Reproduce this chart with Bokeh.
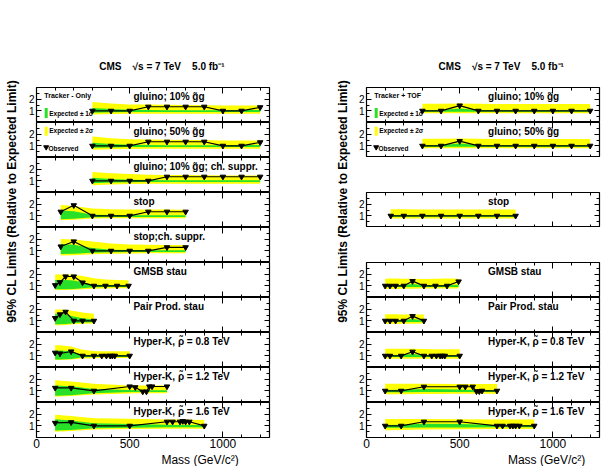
import math

from bokeh.core.properties import value
from bokeh.embed import file_html
from bokeh.layouts import column, row
from bokeh.models import FixedTicker, LinearAxis, Range1d, Spacer
from bokeh.plotting import figure
from bokeh.resources import INLINE

FONT = "Liberation Sans"
YELLOW = "#ffff00"
GREEN = "#28e028"

# ---------------------------------------------------------------- masses (GeV/c^2)
m_gluino = [300, 400, 500, 600, 700, 800, 900, 1000, 1100, 1200]
m_stop = [130, 200, 300, 400, 500, 600, 700, 800]
m_gmsb = [100, 126, 156, 200, 247, 308, 370, 432, 494]
m_ppstau = [100, 126, 156, 200, 247, 308]
m_hk08 = [100, 126, 186, 247, 308, 350, 375, 395, 407, 420, 500]
m_hk12 = [100, 186, 308, 500, 530, 570, 590, 605, 620, 700]
m_hk16 = [100, 186, 308, 500, 700, 730, 770, 785, 800, 820, 900]

# ---------------------------------------------------------------- Tracker-only
# observed / expected limit, and the expected +-2 sigma and +-1 sigma bands
trk_gl10_obs = [1.0, 1.0, 1.0, 1.35, 1.35, 1.35, 1.35, 1.0, 1.0, 1.3]
trk_gl10_lo2 = [0.68, 0.72, 0.74, 0.75, 0.76, 0.76, 0.76, 0.76, 0.75, 0.75]
trk_gl10_hi2 = [1.75, 1.62, 1.55, 1.55, 1.52, 1.5, 1.48, 1.46, 1.46, 1.46]
trk_gl10_lo1 = [0.84, 0.87, 0.89, 0.9, 0.9, 0.9, 0.9, 0.9, 0.9, 0.9]
trk_gl10_hi1 = [1.25, 1.15, 1.09, 1.07, 1.06, 1.06, 1.06, 1.06, 1.07, 1.08]

trk_gl50_obs = [1.0, 1.0, 1.0, 1.35, 1.35, 1.35, 1.35, 1.0, 1.0, 1.3]
trk_gl50_lo2 = [0.66, 0.7, 0.73, 0.75, 0.76, 0.76, 0.76, 0.76, 0.75, 0.75]
trk_gl50_hi2 = [1.8, 1.65, 1.56, 1.55, 1.52, 1.5, 1.5, 1.46, 1.46, 1.46]
trk_gl50_lo1 = [0.83, 0.86, 0.89, 0.9, 0.9, 0.9, 0.9, 0.9, 0.9, 0.9]
trk_gl50_hi1 = [1.27, 1.16, 1.09, 1.07, 1.06, 1.06, 1.06, 1.06, 1.07, 1.08]

trk_gl10cs_obs = [1.0, 1.0, 1.0, 1.0, 1.35, 1.35, 1.35, 1.35, 1.35, 1.35]
trk_gl10cs_lo2 = [0.62, 0.68, 0.72, 0.74, 0.75, 0.76, 0.76, 0.76, 0.76, 0.76]
trk_gl10cs_hi2 = [1.75, 1.65, 1.58, 1.52, 1.5, 1.5, 1.48, 1.46, 1.46, 1.46]
trk_gl10cs_lo1 = [0.8, 0.85, 0.88, 0.89, 0.9, 0.9, 0.9, 0.9, 0.9, 0.9]
trk_gl10cs_hi1 = [1.27, 1.16, 1.09, 1.07, 1.06, 1.06, 1.06, 1.06, 1.06, 1.06]

trk_stop_obs = [1.35, 1.9, 1.0, 1.0, 1.0, 1.35, 1.35, 1.35]
trk_stop_lo2 = [0.62, 0.66, 0.78, 0.8, 0.8, 0.8, 0.8, 0.8]
trk_stop_hi2 = [1.92, 1.85, 1.62, 1.56, 1.55, 1.55, 1.55, 1.52]
trk_stop_lo1 = [0.7, 0.74, 0.88, 0.9, 0.9, 0.9, 0.9, 0.9]
trk_stop_hi1 = [1.45, 1.4, 1.1, 1.07, 1.06, 1.06, 1.06, 1.06]

trk_stopcs_obs = [1.37, 1.8, 1.0, 1.0, 1.0, 1.0, 1.3, 1.3]
trk_stopcs_lo2 = [0.6, 0.62, 0.7, 0.76, 0.78, 0.8, 0.8, 0.8]
trk_stopcs_hi2 = [2.02, 1.98, 1.8, 1.62, 1.55, 1.52, 1.5, 1.5]
trk_stopcs_lo1 = [0.72, 0.74, 0.84, 0.88, 0.9, 0.9, 0.9, 0.9]
trk_stopcs_hi1 = [1.58, 1.52, 1.25, 1.1, 1.07, 1.06, 1.06, 1.06]

trk_gmsb_obs = [1.05, 1.3, 1.8, 1.8, 1.28, 1.0, 1.0, 1.0, 1.0]
trk_gmsb_lo2 = [0.64, 0.64, 0.64, 0.66, 0.7, 0.76, 0.78, 0.8, 0.8]
trk_gmsb_hi2 = [1.98, 1.98, 1.98, 1.95, 1.85, 1.65, 1.55, 1.5, 1.48]
trk_gmsb_lo1 = [0.7, 0.7, 0.7, 0.72, 0.8, 0.88, 0.9, 0.9, 0.9]
trk_gmsb_hi1 = [1.5, 1.5, 1.5, 1.45, 1.3, 1.1, 1.07, 1.06, 1.06]

trk_ppstau_obs = [1.23, 1.55, 1.77, 1.0, 1.0, 1.0]
trk_ppstau_lo2 = [0.62, 0.62, 0.64, 0.7, 0.75, 0.78]
trk_ppstau_hi2 = [1.97, 1.97, 1.95, 1.85, 1.72, 1.6]
trk_ppstau_lo1 = [0.7, 0.7, 0.72, 0.8, 0.86, 0.88]
trk_ppstau_hi1 = [1.6, 1.6, 1.55, 1.38, 1.22, 1.12]

trk_hk08_obs = [1.26, 1.2, 1.37, 1.0, 1.0, 1.0, 1.0, 1.0, 1.0, 1.0, 1.0]
trk_hk08_lo2 = [0.64, 0.64, 0.68, 0.78, 0.8, 0.82, 0.82, 0.82, 0.82, 0.82, 0.82]
trk_hk08_hi2 = [1.9, 1.9, 1.8, 1.52, 1.42, 1.4, 1.4, 1.4, 1.4, 1.4, 1.4]
trk_hk08_lo1 = [0.68, 0.68, 0.72, 0.88, 0.9, 0.9, 0.9, 0.9, 0.9, 0.9, 0.9]
trk_hk08_hi1 = [1.46, 1.46, 1.4, 1.1, 1.06, 1.06, 1.06, 1.06, 1.06, 1.06, 1.06]

trk_hk12_obs = [1.25, 1.25, 1.0, 1.37, 1.3, 0.93, 0.93, 1.37, 1.37, 1.37]
trk_hk12_lo2 = [0.5, 0.55, 0.68, 0.78, 0.8, 0.8, 0.8, 0.8, 0.8, 0.8]
trk_hk12_hi2 = [1.9, 1.8, 1.6, 1.45, 1.45, 1.45, 1.45, 1.45, 1.45, 1.45]
trk_hk12_lo1 = [0.58, 0.62, 0.8, 0.89, 0.9, 0.9, 0.9, 0.9, 0.9, 0.9]
trk_hk12_hi1 = [1.46, 1.4, 1.15, 1.07, 1.06, 1.06, 1.06, 1.06, 1.06, 1.06]

trk_hk16_obs = [1.25, 1.3, 1.0, 1.0, 1.35, 1.35, 1.35, 1.4, 1.35, 1.35, 1.0]
trk_hk16_lo2 = [0.5, 0.55, 0.68, 0.72, 0.75, 0.75, 0.75, 0.75, 0.75, 0.76, 0.76]
trk_hk16_hi2 = [1.95, 1.85, 1.66, 1.6, 1.55, 1.55, 1.55, 1.55, 1.55, 1.52, 1.5]
trk_hk16_lo1 = [0.6, 0.65, 0.8, 0.84, 0.87, 0.88, 0.88, 0.88, 0.88, 0.88, 0.88]
trk_hk16_hi1 = [1.56, 1.45, 1.22, 1.15, 1.1, 1.08, 1.08, 1.08, 1.08, 1.08, 1.08]

# ---------------------------------------------------------------- Tracker + TOF
tof_gl10_obs = [1.0, 1.0, 1.45, 1.0, 1.0, 1.0, 1.0, 1.0, 1.0, 1.0]
tof_gl10_lo2 = [0.8, 0.8, 0.8, 0.8, 0.8, 0.8, 0.8, 0.8, 0.8, 0.8]
tof_gl10_hi2 = [1.6, 1.6, 1.62, 1.6, 1.58, 1.58, 1.58, 1.58, 1.58, 1.58]
tof_gl10_lo1 = [0.92, 0.92, 0.92, 0.92, 0.92, 0.92, 0.92, 0.92, 0.92, 0.92]
tof_gl10_hi1 = [1.05, 1.08, 1.2, 1.08, 1.05, 1.05, 1.05, 1.05, 1.05, 1.05]

tof_gl50_obs = [1.0, 1.0, 1.4, 1.0, 1.0, 1.0, 1.0, 1.0, 1.0, 1.0]
tof_gl50_lo2 = [0.8, 0.8, 0.8, 0.8, 0.8, 0.8, 0.8, 0.8, 0.8, 0.8]
tof_gl50_hi2 = [1.6, 1.6, 1.62, 1.6, 1.58, 1.58, 1.58, 1.58, 1.58, 1.58]
tof_gl50_lo1 = [0.92, 0.92, 0.92, 0.92, 0.92, 0.92, 0.92, 0.92, 0.92, 0.92]
tof_gl50_hi1 = [1.05, 1.08, 1.2, 1.08, 1.05, 1.05, 1.05, 1.05, 1.05, 1.05]

tof_stop_obs = [1.0, 1.0, 1.0, 1.0, 1.0, 1.0, 1.0, 1.0]
tof_stop_lo2 = [0.78, 0.78, 0.78, 0.78, 0.78, 0.78, 0.78, 0.78]
tof_stop_hi2 = [1.56, 1.56, 1.55, 1.55, 1.55, 1.55, 1.55, 1.55]
tof_stop_lo1 = [0.92, 0.92, 0.92, 0.92, 0.92, 0.92, 0.92, 0.92]
tof_stop_hi1 = [1.05, 1.05, 1.05, 1.05, 1.05, 1.05, 1.05, 1.05]

tof_gmsb_obs = [1.0, 1.0, 1.0, 1.0, 1.4, 1.0, 1.0, 1.0, 1.37]
tof_gmsb_lo2 = [0.72, 0.72, 0.72, 0.74, 0.76, 0.78, 0.78, 0.78, 0.78]
tof_gmsb_hi2 = [1.6, 1.62, 1.62, 1.6, 1.6, 1.58, 1.6, 1.62, 1.6]
tof_gmsb_lo1 = [0.9, 0.9, 0.9, 0.9, 0.9, 0.91, 0.91, 0.91, 0.91]
tof_gmsb_hi1 = [1.06, 1.06, 1.06, 1.08, 1.15, 1.06, 1.05, 1.06, 1.1]

tof_ppstau_obs = [1.0, 1.0, 1.0, 1.0, 1.4, 1.0]
tof_ppstau_lo2 = [0.72, 0.72, 0.72, 0.74, 0.76, 0.78]
tof_ppstau_hi2 = [1.56, 1.56, 1.56, 1.55, 1.55, 1.55]
tof_ppstau_lo1 = [0.9, 0.9, 0.9, 0.9, 0.91, 0.91]
tof_ppstau_hi1 = [1.06, 1.06, 1.06, 1.08, 1.15, 1.06]

tof_hk08_obs = [1.0, 1.0, 1.0, 1.35, 1.0, 1.0, 1.0, 1.0, 1.0, 1.0, 1.0]
tof_hk08_lo2 = [0.74, 0.74, 0.75, 0.76, 0.76, 0.76, 0.76, 0.76, 0.76, 0.76, 0.76]
tof_hk08_hi2 = [1.6, 1.6, 1.6, 1.6, 1.58, 1.56, 1.56, 1.56, 1.56, 1.56, 1.56]
tof_hk08_lo1 = [0.9, 0.9, 0.9, 0.9, 0.91, 0.91, 0.91, 0.91, 0.91, 0.91, 0.91]
tof_hk08_hi1 = [1.06, 1.06, 1.08, 1.15, 1.06, 1.05, 1.05, 1.05, 1.05, 1.05, 1.05]

tof_hk12_obs = [1.0, 1.0, 1.35, 1.35, 1.35, 1.35, 0.95, 0.95, 1.0, 1.0]
tof_hk12_lo2 = [0.7, 0.7, 0.72, 0.75, 0.75, 0.75, 0.75, 0.75, 0.75, 0.75]
tof_hk12_hi2 = [1.6, 1.6, 1.6, 1.58, 1.58, 1.58, 1.58, 1.58, 1.58, 1.58]
tof_hk12_lo1 = [0.88, 0.88, 0.89, 0.9, 0.9, 0.9, 0.9, 0.9, 0.9, 0.9]
tof_hk12_hi1 = [1.08, 1.1, 1.15, 1.12, 1.1, 1.08, 1.06, 1.05, 1.05, 1.05]

tof_hk16_obs = [1.0, 1.0, 1.35, 1.35, 1.0, 1.0, 1.0, 1.0, 1.0, 1.0, 1.0]
tof_hk16_lo2 = [0.62, 0.64, 0.68, 0.7, 0.72, 0.72, 0.72, 0.72, 0.72, 0.72, 0.72]
tof_hk16_hi2 = [1.58, 1.58, 1.58, 1.57, 1.55, 1.55, 1.55, 1.55, 1.55, 1.55, 1.55]
tof_hk16_lo1 = [0.84, 0.84, 0.85, 0.86, 0.88, 0.88, 0.88, 0.88, 0.88, 0.88, 0.88]
tof_hk16_hi1 = [1.08, 1.1, 1.18, 1.15, 1.07, 1.05, 1.05, 1.05, 1.05, 1.05, 1.05]

# ---------------------------------------------------------------- panel titles
GG = "g\u0303g"
RHO = "\u03c1\u0303"
titles = [
    "gluino; 10% " + GG,
    "gluino; 50% " + GG,
    "gluino; 10% " + GG + "; ch. suppr.",
    "stop",
    "stop;ch. suppr.",
    "GMSB stau",
    "Pair Prod. stau",
    "Hyper-K, " + RHO + " = 0.8 TeV",
    "Hyper-K, " + RHO + " = 1.2 TeV",
    "Hyper-K, " + RHO + " = 1.6 TeV",
]

trk_panels = [
    (m_gluino, trk_gl10_obs, trk_gl10_lo2, trk_gl10_hi2, trk_gl10_lo1, trk_gl10_hi1),
    (m_gluino, trk_gl50_obs, trk_gl50_lo2, trk_gl50_hi2, trk_gl50_lo1, trk_gl50_hi1),
    (m_gluino, trk_gl10cs_obs, trk_gl10cs_lo2, trk_gl10cs_hi2, trk_gl10cs_lo1, trk_gl10cs_hi1),
    (m_stop, trk_stop_obs, trk_stop_lo2, trk_stop_hi2, trk_stop_lo1, trk_stop_hi1),
    (m_stop, trk_stopcs_obs, trk_stopcs_lo2, trk_stopcs_hi2, trk_stopcs_lo1, trk_stopcs_hi1),
    (m_gmsb, trk_gmsb_obs, trk_gmsb_lo2, trk_gmsb_hi2, trk_gmsb_lo1, trk_gmsb_hi1),
    (m_ppstau, trk_ppstau_obs, trk_ppstau_lo2, trk_ppstau_hi2, trk_ppstau_lo1, trk_ppstau_hi1),
    (m_hk08, trk_hk08_obs, trk_hk08_lo2, trk_hk08_hi2, trk_hk08_lo1, trk_hk08_hi1),
    (m_hk12, trk_hk12_obs, trk_hk12_lo2, trk_hk12_hi2, trk_hk12_lo1, trk_hk12_hi1),
    (m_hk16, trk_hk16_obs, trk_hk16_lo2, trk_hk16_hi2, trk_hk16_lo1, trk_hk16_hi1),
]

# the TOF analysis has no charge-suppressed gluino or stop results
tof_panels = [
    (m_gluino, tof_gl10_obs, tof_gl10_lo2, tof_gl10_hi2, tof_gl10_lo1, tof_gl10_hi1),
    (m_gluino, tof_gl50_obs, tof_gl50_lo2, tof_gl50_hi2, tof_gl50_lo1, tof_gl50_hi1),
    None,
    (m_stop, tof_stop_obs, tof_stop_lo2, tof_stop_hi2, tof_stop_lo1, tof_stop_hi1),
    None,
    (m_gmsb, tof_gmsb_obs, tof_gmsb_lo2, tof_gmsb_hi2, tof_gmsb_lo1, tof_gmsb_hi1),
    (m_ppstau, tof_ppstau_obs, tof_ppstau_lo2, tof_ppstau_hi2, tof_ppstau_lo1, tof_ppstau_hi1),
    (m_hk08, tof_hk08_obs, tof_hk08_lo2, tof_hk08_hi2, tof_hk08_lo1, tof_hk08_hi1),
    (m_hk12, tof_hk12_obs, tof_hk12_lo2, tof_hk12_hi2, tof_hk12_lo1, tof_hk12_hi1),
    (m_hk16, tof_hk16_obs, tof_hk16_lo2, tof_hk16_hi2, tof_hk16_lo1, tof_hk16_hi1),
]

# non-breaking spaces keep the wide gaps of the header line
GAP = "\u00a0\u00a0\u00a0\u00a0"
HEADER = "CMS" + GAP + "\u221as = 7 TeV" + GAP + "5.0 fb\u207b\u00b9"
YTITLE = "95% CL Limits (Relative to Expected Limit)"
XTITLE = "Mass (GeV/c\u00b2)"

# ---------------------------------------------------------------- geometry
FRAME_W = 233
PANEL_H = 35
HEADER_H = 87
XAXIS_H = 15
FOOTER_H = 14
PAGE_H = HEADER_H + 10 * PANEL_H + XAXIS_H + FOOTER_H


def blank_fig(width, height):
    p = figure(width=width, height=height, x_range=Range1d(0, width),
               y_range=Range1d(0, height), x_axis_location=None, y_axis_location=None,
               toolbar_location=None, output_backend="svg", min_border=0)
    p.grid.visible = False
    p.outline_line_color = None
    return p


def add_axes(p, with_labels):
    yt = FixedTicker(ticks=[1, 2], minor_ticks=[0.5, 1.5, 2.5])
    xt = FixedTicker(ticks=[0, 500, 1000],
                     minor_ticks=[100, 200, 300, 400, 600, 700, 800, 900, 1100, 1200])
    common = dict(axis_line_color=None, major_tick_out=0, minor_tick_out=0,
                  major_tick_line_width=1, minor_tick_line_width=1)
    # labelled axes sit in the plot borders, unlabelled ones only draw inner ticks
    p.add_layout(LinearAxis(ticker=yt, major_tick_in=5, minor_tick_in=3,
                            major_label_standoff=2, major_label_text_font=FONT,
                            major_label_text_font_size="10px",
                            major_label_text_color="black", **common), "left")
    p.add_layout(LinearAxis(fixed_location=1250, ticker=yt, major_tick_in=5, minor_tick_in=3,
                            major_label_text_color=None, **common), "right")
    if with_labels:
        p.add_layout(LinearAxis(ticker=xt, major_tick_in=6, minor_tick_in=3,
                                major_label_standoff=1, major_label_text_font=FONT,
                                major_label_text_font_size="12px",
                                major_label_text_color="black", **common), "below")
    else:
        p.add_layout(LinearAxis(fixed_location=0, ticker=xt, major_tick_in=6, minor_tick_in=3,
                                major_label_text_color=None, **common), "below")
    p.add_layout(LinearAxis(fixed_location=3, ticker=xt, major_tick_in=6, minor_tick_in=3,
                            major_label_text_color=None, **common), "above")


def make_panel(spec, title, col_w, border_l, title_x, last):
    mass, obs, lo2, hi2, lo1, hi1 = spec
    bottom = XAXIS_H if last else 0
    p = figure(width=col_w, height=PANEL_H + bottom,
               x_range=Range1d(0, 1250), y_range=Range1d(0, 3),
               x_axis_location=None, y_axis_location=None,
               toolbar_location=None, output_backend="svg",
               min_border_left=border_l, min_border_right=col_w - border_l - FRAME_W,
               min_border_top=0, min_border_bottom=bottom)
    p.grid.visible = False
    p.outline_line_color = "black"
    p.outline_line_width = 1.2
    p.background_fill_color = "white"
    p.border_fill_color = "white"

    p.varea(x=mass, y1=lo2, y2=hi2, fill_color=YELLOW)
    p.varea(x=mass, y1=lo1, y2=hi1, fill_color=GREEN)
    p.line(x=mass, y=obs, line_color="black", line_width=1.2)
    p.scatter(x=mass, y=obs, marker="inverted_triangle", size=5.5,
              fill_color="black", line_color="black")

    p.text(x=[title_x], y=[2.66], text=[title], text_font=value(FONT),
           text_font_style="bold", text_font_size="10px", text_baseline="top",
           text_color="black")
    add_axes(p, last)
    return p


def add_legend(p_top, p_second, tag):
    txt = dict(text_font=value(FONT), text_font_style="bold", text_color="black",
               text_baseline="middle")
    p_top.text(x=[42], y=[2.29], text=[tag], text_font_size="7px", **txt)
    p_top.rect(x=[52], y=[0.81], width=3, height=10, width_units="screen",
               height_units="screen", fill_color=GREEN, line_color=None)
    p_top.text(x=[68], y=[0.8], text=["Expected \u00b1 1\u03c3"], text_font_size="6.5px", **txt)
    p_second.rect(x=[52], y=[2.26], width=3, height=9, width_units="screen",
                  height_units="screen", fill_color=YELLOW, line_color=None)
    p_second.text(x=[68], y=[2.29], text=["Expected \u00b1 2\u03c3"], text_font_size="6.5px", **txt)
    p_second.scatter(x=[52], y=[0.88], marker="inverted_triangle", size=5,
                     fill_color="black", line_color="black")
    p_second.text(x=[64], y=[0.75], text=["Observed"], text_font_size="6.5px", **txt)


def header_fig(col_w, cx):
    p = blank_fig(col_w, HEADER_H)
    p.text(x=[cx], y=[HEADER_H - 65.7], text=[HEADER], text_align="center",
           text_baseline="middle", text_font=value(FONT), text_font_style="bold",
           text_font_size="10px", text_color="black")
    return p


def footer_fig(col_w, rx):
    p = blank_fig(col_w, FOOTER_H)
    p.text(x=[rx], y=[FOOTER_H / 2], text=[XTITLE], text_align="right",
           text_baseline="middle", text_font=value(FONT), text_font_size="12px",
           text_color="black")
    return p


def ytitle_fig(width, x):
    p = blank_fig(width, PAGE_H)
    p.text(x=[x], y=[PAGE_H - 201], text=[YTITLE], angle=math.pi / 2,
           text_align="center", text_baseline="middle", text_font=value(FONT),
           text_font_style="bold", text_font_size="12px", text_color="black")
    return p


def build_column(specs, tag, col_w, border_l, title_x, header_cx, footer_rx):
    items = [header_fig(col_w, header_cx)]
    figs = []
    for i, (spec, title) in enumerate(zip(specs, titles)):
        if spec is None:
            items.append(Spacer(width=col_w, height=PANEL_H))
            figs.append(None)
            continue
        p = make_panel(spec, title, col_w, border_l, title_x, i == len(specs) - 1)
        items.append(p)
        figs.append(p)
    items.append(footer_fig(col_w, footer_rx))
    add_legend(figs[0], figs[1], tag)
    return column(*items, spacing=0)


left = row(ytitle_fig(20, 11),
           build_column(trk_panels, "Tracker - Only", 288, 16, 520, 155, 250), spacing=0)
right = row(ytitle_fig(46, 34),
            build_column(tof_panels, "Tracker + TOF", 262, 12, 652, 151.5, 246), spacing=0)
page = row(left, right, spacing=0)

open("out.html", "w").write(file_html(page, INLINE, title="HSCP limits"))
